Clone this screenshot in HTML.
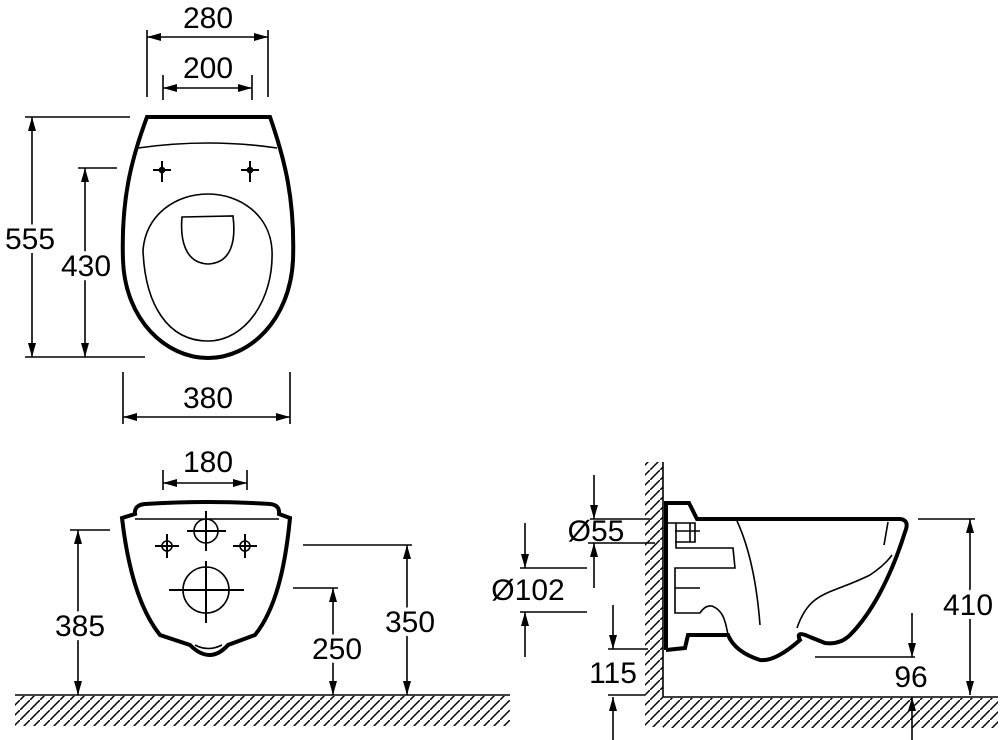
<!DOCTYPE html>
<html><head><style>body{margin:0;background:#fff}svg{display:block}text{font-family:"Liberation Sans",sans-serif;font-size:30px;fill:#000}.w{stroke:#fff;stroke-width:8px;paint-order:stroke}</style></head>
<body>
<svg width="1000" height="740" viewBox="0 0 1000 740" xmlns="http://www.w3.org/2000/svg">
<defs>
<marker id="a" viewBox="0 0 14 8" refX="14" refY="4" markerWidth="14" markerHeight="8" markerUnits="userSpaceOnUse" orient="auto-start-reverse"><path d="M0,0 L14,4 L0,8 Z" fill="#000"/></marker>
<pattern id="h" width="10" height="10" patternUnits="userSpaceOnUse"><path d="M-2,12 L12,-2" stroke="#000" stroke-width="1.5"/></pattern>
</defs>
<g fill="none" stroke="#000" stroke-width="1.6">
<line x1="147" y1="30" x2="147" y2="97"/><line x1="268" y1="30" x2="268" y2="97"/>
<line x1="147" y1="37" x2="268" y2="37" marker-start="url(#a)" marker-end="url(#a)"/>
<line x1="163" y1="75" x2="163" y2="100"/><line x1="252" y1="75" x2="252" y2="100"/>
<line x1="163" y1="88" x2="252" y2="88" marker-start="url(#a)" marker-end="url(#a)"/>
<line x1="25" y1="117" x2="130" y2="117"/><line x1="25" y1="357" x2="145" y2="357"/>
<line x1="32" y1="117" x2="32" y2="357" marker-start="url(#a)" marker-end="url(#a)"/>
<line x1="78" y1="168" x2="117" y2="168"/>
<line x1="85" y1="168" x2="85" y2="357" marker-start="url(#a)" marker-end="url(#a)"/>
<line x1="123" y1="372" x2="123" y2="424"/><line x1="290" y1="372" x2="290" y2="424"/>
<line x1="123" y1="417" x2="290" y2="417" marker-start="url(#a)" marker-end="url(#a)"/>
<path d="M147,117 L270,117 C285,160 295,200 293,260 C290,320 250,358 208,358 C166,358 125,320 123,260 C121,200 131,160 147,117 Z" stroke-width="4"/>
<path d="M138,148 Q208,138 277,148"/>
<path d="M208,194 C240,194 270,215 272,250 C274,300 245,341 208,341 C168,341 145,305 143,250 C146,215 175,194 208,194 Z"/>
<path d="M182,217 L233,216 C236,240 232,263 208,264 C185,263 180,240 182,217 Z"/>
<path d="M153,170 L171,170 M162,161 L162,182 M241,170 L259,170 M250,161 L250,182" stroke-width="2"/>
<circle cx="162" cy="170" r="2.5" fill="#000"/><circle cx="250" cy="170" r="2.5" fill="#000"/>
<line x1="163" y1="470" x2="163" y2="490"/><line x1="247" y1="470" x2="247" y2="490"/>
<line x1="163" y1="483" x2="247" y2="483" marker-start="url(#a)" marker-end="url(#a)"/>
<line x1="70" y1="530" x2="110" y2="530"/>
<line x1="78" y1="530" x2="78" y2="695" marker-start="url(#a)" marker-end="url(#a)"/>
<line x1="303" y1="545" x2="412" y2="545"/>
<line x1="407" y1="545" x2="407" y2="695" marker-start="url(#a)" marker-end="url(#a)"/>
<line x1="293" y1="588" x2="338" y2="588"/>
<line x1="333" y1="588" x2="333" y2="695" marker-start="url(#a)" marker-end="url(#a)"/>
<path d="M135,514 Q134,505 145,504 Q208,500 270,504 Q280,505 279,514 L290,518 C285,570 275,610 255,635 L228,645 Q210,665 190,645 L160,635 C140,610 128,570 122,518 Z" stroke-width="4"/>
<line x1="135" y1="519" x2="279" y2="519"/>
<path d="M195,645 Q208,652 222,645"/>
<circle cx="206" cy="531" r="12"/>
<path d="M187,531 L226,531 M206,511 L206,551" stroke-width="2"/>
<circle cx="167" cy="546" r="5"/><circle cx="245" cy="546" r="5"/>
<path d="M155,546 L179,546 M167,534 L167,558 M233,546 L257,546 M245,534 L245,558" stroke-width="2"/>
<circle cx="206" cy="590" r="23"/>
<path d="M169,590 L244,590 M206,561 L206,623" stroke-width="2"/>
<line x1="15" y1="695" x2="510" y2="695"/>
</g>
<rect x="15" y="696" width="495" height="30" fill="url(#h)"/>
<rect x="645" y="462" width="18" height="265" fill="url(#h)"/>
<rect x="663" y="698" width="335" height="30" fill="url(#h)"/>
<g fill="none" stroke="#000" stroke-width="1.6">
<line x1="663" y1="462" x2="663" y2="697"/>
<line x1="663" y1="697" x2="998" y2="697"/>
<path d="M666,650 L666,503 L689,503 L697,519 L900,519 Q910,520 905,532 C890,580 870,615 850,635 Q840,645 825,643 L810,637 Q795,630 800,640 Q775,662 760,660 Q735,652 728,635 L688,635 L685,648 L666,650" stroke-width="4"/>
<path d="M797,628 C810,590 830,595 870,575 Q885,565 892,555"/>
<path d="M728,635 C725,618 722,610 712,606 Q705,605 700,613 L675,613 L675,568 L735,568 L733,548 L676,548 L676,523"/>
<path d="M737,521 Q755,560 760,625"/><path d="M888,522 L884,545"/>
<path d="M666,523 L690,523 L690,542 L675,542 M690,523 L695,523 L695,542 L690,542 M675,531 L700,531 M675,588 L700,588"/>
<line x1="590" y1="519" x2="650" y2="519"/><line x1="588" y1="543" x2="655" y2="543"/>
<line x1="594" y1="475" x2="594" y2="519" marker-end="url(#a)"/>
<line x1="594" y1="588" x2="594" y2="543" marker-end="url(#a)"/>
<line x1="520" y1="568" x2="587" y2="568"/><line x1="520" y1="612" x2="587" y2="612"/>
<line x1="525" y1="523" x2="525" y2="568" marker-end="url(#a)"/>
<line x1="525" y1="657" x2="525" y2="612" marker-end="url(#a)"/>
<line x1="608" y1="649" x2="648" y2="649"/><line x1="608" y1="695" x2="645" y2="695"/>
<line x1="613" y1="605" x2="613" y2="649" marker-end="url(#a)"/>
<line x1="613" y1="740" x2="613" y2="697" marker-end="url(#a)"/>
<line x1="918" y1="519" x2="975" y2="519"/>
<line x1="970" y1="519" x2="970" y2="695" marker-start="url(#a)" marker-end="url(#a)"/>
<line x1="815" y1="657" x2="915" y2="657"/>
<line x1="912" y1="613" x2="912" y2="657" marker-end="url(#a)"/>
<line x1="912" y1="740" x2="912" y2="697" marker-end="url(#a)"/>
</g>
<g text-anchor="middle">
<text x="208" y="28">280</text>
<text x="208" y="78">200</text>
<text class="w" x="30" y="249">555</text>
<text class="w" x="86" y="276">430</text>
<text x="208" y="408">380</text>
<text x="208" y="472">180</text>
<text class="w" x="80" y="636">385</text>
<text class="w" x="410" y="632">350</text>
<text class="w" x="337" y="659">250</text>
<text x="596" y="541">Ø55</text>
<text x="528" y="600">Ø102</text>
<text x="613" y="683">115</text>
<text class="w" x="968" y="615">410</text>
<text x="911" y="687">96</text>
</g>
</svg>
</body></html>
